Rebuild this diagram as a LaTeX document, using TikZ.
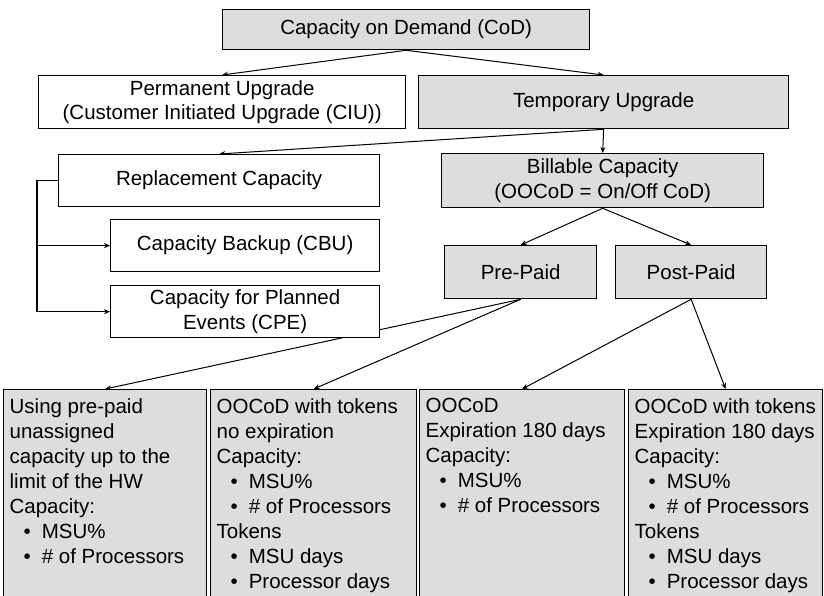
\documentclass[tikz,border=0pt]{standalone}
\usepackage{fontspec}
\setmainfont{Liberation Sans}
\usetikzlibrary{arrows.meta, backgrounds}
\definecolor{cellgray}{RGB}{221,221,221}
\newcommand{\bul}[1]{\hspace*{14pt}\textbullet\hspace{11pt}#1}

\begin{document}
\begin{tikzpicture}[x=1pt,y=-1pt]
\tikzset{font=\fontsize{20.5}{24.5}\selectfont}
\tikzset{box/.style={draw, line width=1.3pt, fill=white, anchor=north west, align=center, inner sep=0pt}}
\tikzset{shaded/.style={box, fill=cellgray}}
\tikzset{cell/.style={shaded, inner xsep=6pt, inner ysep=9pt, font=\fontsize{20.5}{25}\selectfont}}
\tikzset{link/.style={-{Stealth[length=6pt,width=5pt]}, line width=1pt}}
\useasboundingbox (0,0) rectangle (824,596);

\node[shaded, minimum width=367pt, minimum height=40pt] (cod) at (222,9) {Capacity on Demand (CoD)};
\node[box, minimum width=367pt, minimum height=53pt] (perm) at (38,75) {Permanent Upgrade\\(Customer Initiated Upgrade (CIU))};
\node[shaded, minimum width=370pt, minimum height=53pt] (temp) at (418,75) {Temporary Upgrade};
\node[box, minimum width=321pt, minimum height=52pt] (repl) at (58,154) {Replacement Capacity};
\node[shaded, minimum width=322pt, minimum height=54pt] (bill) at (441,153) {Billable Capacity\\(OOCoD = On/Off CoD)};
\node[box, minimum width=269pt, minimum height=52pt] (cbu) at (110,219) {Capacity Backup (CBU)};
\node[box, minimum width=269pt, minimum height=52pt] (cpe) at (110,285) {Capacity for Planned\\Events (CPE)};
\node[shaded, minimum width=152pt, minimum height=53pt] (pre) at (444,245) {Pre-Paid};
\node[shaded, minimum width=151pt, minimum height=53pt] (post) at (615,245) {Post-Paid};

\node[cell] (unused) at (3,389) {\parbox[t][215pt][t]{191pt}{\raggedright
  Using pre-paid\\unassigned\\capacity up to the\\limit of the HW\\Capacity:\\
  \bul{MSU\%}\\\bul{\# of Processors}}};
\node[cell] (noexp) at (210,389) {\parbox[t][215pt][t]{194pt}{\raggedright
  OOCoD with tokens\\no expiration\\Capacity:\\\bul{MSU\%}\\\bul{\# of Processors}\\
  Tokens\\\bul{MSU days}\\\bul{Processor days}}};
\node[cell] (plain) at (419,389) {\parbox[t][215pt][t]{193pt}{\raggedright
  OOCoD\\Expiration 180 days\\Capacity:\\\bul{MSU\%}\\\bul{\# of Processors}}};
\node[cell] (tokens) at (628,389) {\parbox[t][215pt][t]{182pt}{\raggedright
  OOCoD with tokens\\Expiration 180 days\\Capacity:\\\bul{MSU\%}\\\bul{\# of Processors}\\
  Tokens\\\bul{MSU days}\\\bul{Processor days}}};

\begin{scope}[on background layer]
\draw[link] (cod.south) -- (perm.north);
\draw[link] (cod.south) -- (temp.north);
\draw[link] (temp.south) -- (repl.north);
\draw[link] (temp.south) -- (bill.north);
\draw[link, line width=1.3pt] (repl.west) -- ++(-21,0) coordinate (rail) |- (cpe.west);
\draw[link, line width=1.3pt] (rail) |- (cbu.west);
\draw[link] (bill.south) -- (pre.north);
\draw[link] (bill.south) -- (post.north);
\draw[link] (pre.south) -- (unused.north);
\draw[link] (pre.south) -- (noexp.north);
\draw[link] (post.south) -- (plain.north);
\draw[link] (post.south) -- (tokens.north);
\end{scope}
\end{tikzpicture}
\end{document}
